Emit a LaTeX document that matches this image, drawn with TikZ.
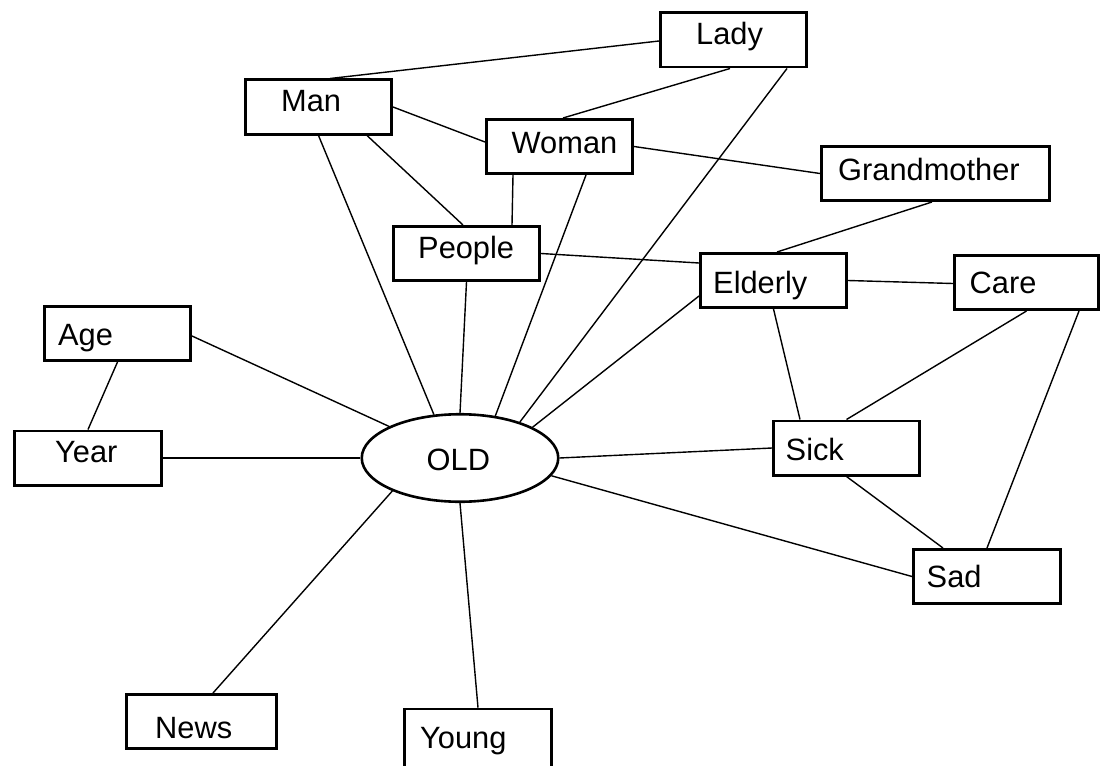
\documentclass[tikz,border=0pt]{standalone}
\usepackage{fontspec}
\setmainfont{Liberation Sans}
\usetikzlibrary{shapes.geometric}
\begin{document}
\begin{tikzpicture}[x=1pt,y=-1pt,
  box/.style={draw=black, line width=2.6pt, inner sep=0pt,
    minimum width=#1, minimum height=54.4pt},
  box/.default=146.4pt,
  oval/.style={ellipse, draw=black, line width=2.6pt, inner sep=0pt,
    minimum width=196.5pt, minimum height=87.5pt},
  word/.style={anchor=base west, inner sep=0pt,
    font=\fontsize{30.8}{36}\selectfont},
  link/.style={draw=black, line width=1.4pt}]

\fill[white] (0,0) rectangle (1102,765);
\useasboundingbox (0,0) rectangle (1102,765);

% word boxes
\node[box] (lady) at (733.5,40) {};
\node[box] (man) at (318.5,107) {};
\node[box] (woman) at (559.5,146.5) {};
\node[box=228.4pt] (grand) at (935.5,173.5) {};
\node[box] (people) at (466.5,253.5) {};
\node[box] (elderly) at (773.5,280.5) {};
\node[box=144.4pt] (care) at (1026.5,282.5) {};
\node[box] (age) at (117.5,333.5) {};
\node[box=147.4pt] (year) at (88,458) {};
\node[box] (sick) at (846.5,448) {};
\node[box=147.4pt] (sad) at (987,576.5) {};
\node[box=150.4pt] (news) at (201.5,721.5) {};
\node[box=147.4pt, minimum height=66pt] (young) at (478,742) {};
\node[oval] (old) at (460,458) {};

% labels
\node[word] (lady-t) at (696,45) {Lady};
\node[word] (man-t) at (281,112) {Man};
\node[word] (woman-t) at (511.5,153) {Woman};
\node[word] (grand-t) at (838,180) {Grandmother};
\node[word] (people-t) at (418,258) {People};
\node[word] (elderly-t) at (713,293) {Elderly};
\node[word] (care-t) at (969.5,293) {Care};
\node[word] (age-t) at (58,345) {Age};
\node[word] (year-t) at (55,462) {Year};
\node[word] (old-t) at (426.5,470) {OLD};
\node[word] (sick-t) at (785.5,460) {Sick};
\node[word] (sad-t) at (926.5,587) {Sad};
\node[word] (news-t) at (155,738) {News};
\node[word] (young-t) at (420,748) {Young};

% links between words
\draw[link] ([xshift=11.5pt]man.north) -- ([yshift=-1pt]lady.west);
\draw[link] ([xshift=-3.5pt]lady.south) -- ([xshift=3.5pt]woman.north);
\draw[link] (man.east) -- ([yshift=4.5pt]woman.west);
\draw[link] ([xshift=48.5pt]man.south) -- ([xshift=-3.5pt]people.north);
\draw[link] ([xshift=-46.5pt]woman.south) -- ([xshift=45.5pt]people.north);
\draw[link] (woman.east) -- (grand.west);
\draw[link] ([xshift=-3.5pt]grand.south) -- ([xshift=3.5pt]elderly.north);
\draw[link] (people.east) -- ([yshift=17.5pt]elderly.west);
\draw[link] (elderly.east) -- ([yshift=-1pt]care.west);
\draw[link] (elderly.south) -- ([xshift=-46.5pt]sick.north);
\draw[link] (care.south) -- (sick.north);
\draw[link] ([xshift=52.5pt]care.south) -- (sad.north);
\draw[link] (sick.south) -- ([xshift=-44pt]sad.north);
\draw[link] (age.south) -- (year.north);

% links to the centre
\draw[link] ([yshift=-2.5pt]age.east) -- (old.156);
\draw[link] (year.east) -- (old.west);
\draw[link] (man.south) -- (old.121);
\draw[link] (people.south) -- (old.north);
\draw[link] ([xshift=26.5pt]woman.south) -- (old.50);
\draw[link] ([xshift=53.5pt]lady.south) -- (old.31);
\draw[link] ([yshift=-15.5pt]elderly.west) -- (old.23);
\draw[link] (sick.west) -- (old.east);
\draw[link] (sad.west) -- (old.349);
\draw[link] ([xshift=11.5pt]news.north) -- (old.206);
\draw[link] (young.north) -- (old.south);
\end{tikzpicture}
\end{document}
